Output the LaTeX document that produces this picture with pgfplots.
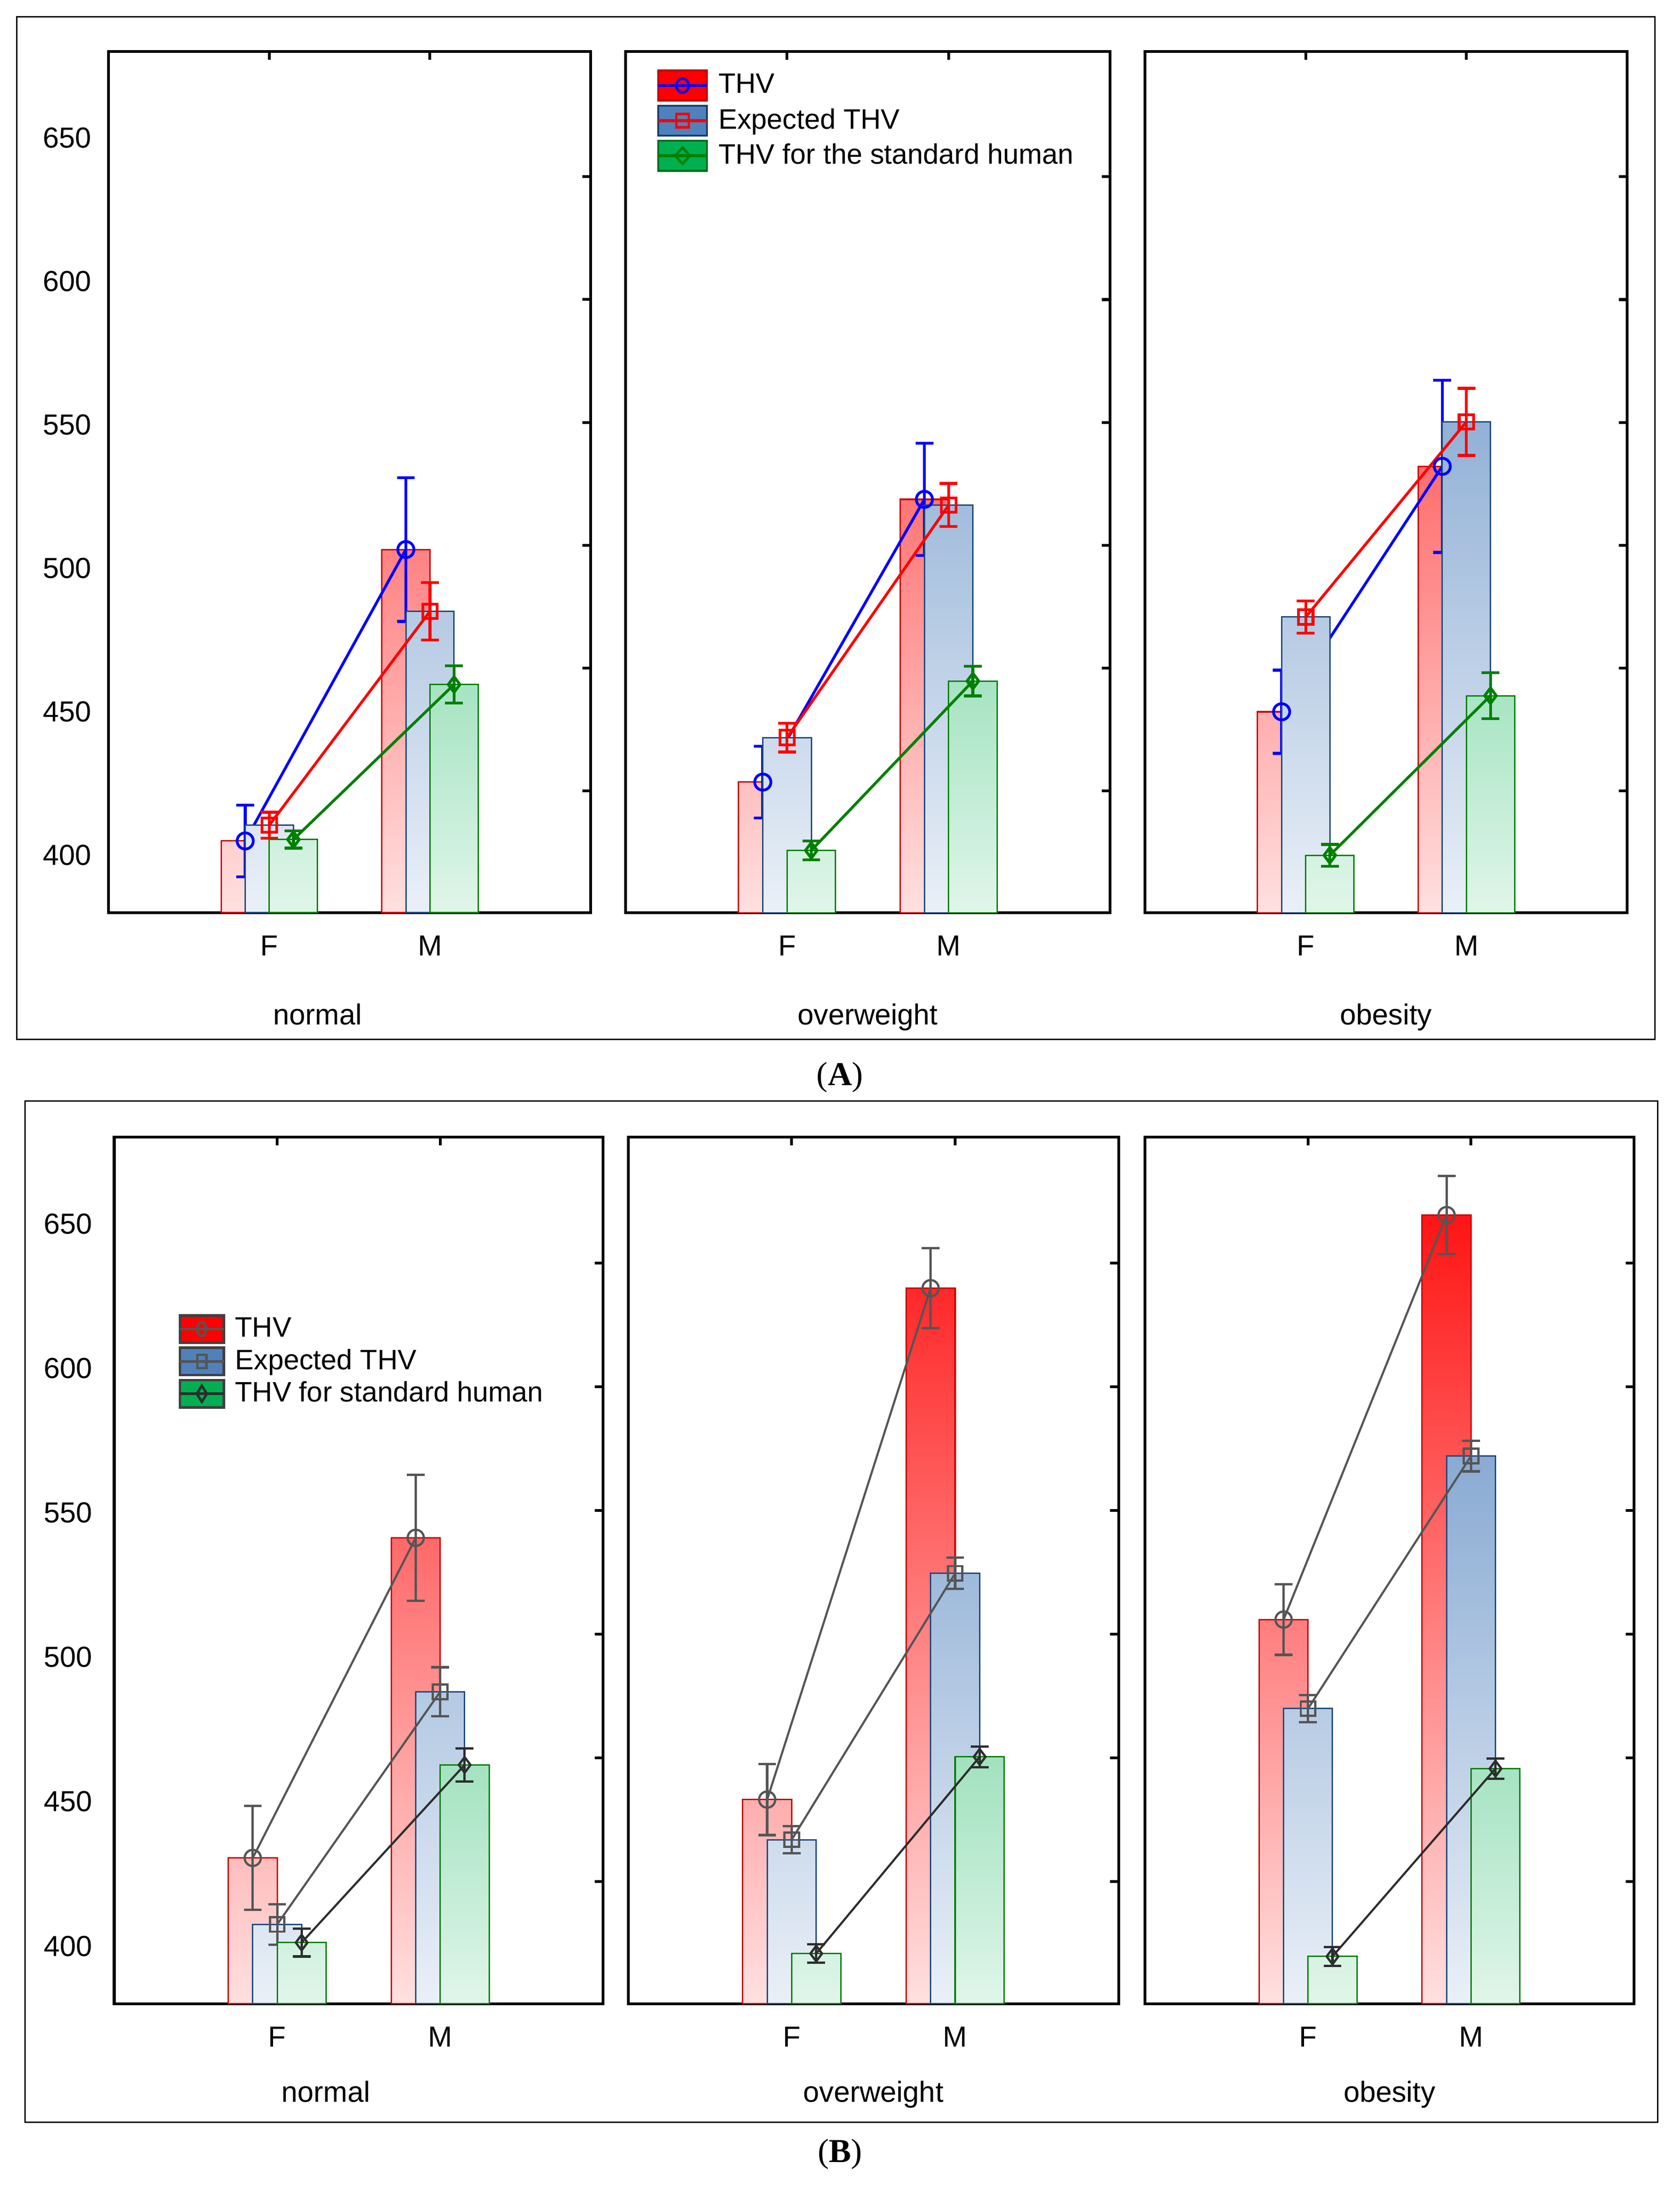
\documentclass[border=0pt]{standalone}
\usepackage{pgfplots}
\pgfplotsset{compat=1.18}
\usepackage{fontspec}
\setmainfont{Liberation Sans}
\newfontfamily\seriffont{Liberation Serif}
\newcommand\fs{\fontsize{10.4}{12.5}\selectfont}
\newcommand\lfs{\fontsize{10.1}{12}\selectfont}
\definecolor{barRed}{RGB}{255,0,0}
\definecolor{edgeRed}{RGB}{204,0,0}
\definecolor{barBlue}{RGB}{79,129,189}
\definecolor{edgeBlue}{RGB}{31,73,125}
\definecolor{barGreen}{RGB}{0,176,80}
\definecolor{edgeGreen}{RGB}{0,128,0}
\definecolor{lineGreen}{RGB}{0,128,0}
\definecolor{legRedE}{RGB}{190,0,0}
\definecolor{legBlueE}{RGB}{23,62,112}
\definecolor{legGreenE}{RGB}{0,110,30}
\definecolor{grayA}{RGB}{85,85,85}
\definecolor{grayB}{RGB}{45,45,45}
\definecolor{legGrayE}{RGB}{64,64,64}

% one shaded bar: colour, edge, x, value
\newcommand\shbar[4]{%
  \pgfmathtruncatemacro{\pct}{12+(#4-380)*0.29333}%
  \edef\doplot{\noexpand\addplot[ybar, bar width=0.3, bar shift=0pt, draw=#2, line width=0.5pt, top color=#1!\pct!white, bottom color=#1!12!white, forget plot] coordinates {(#3,#4)};}%
  \doplot}
\newcommand\sideticks{%
  \pgfplotsinvokeforeach{0.1413,0.2840,0.4267,0.5693,0.7120,0.8547}{\draw[line width=1pt] (rel axis cs:1,##1) -- ++(-3pt,0pt);}%
  \draw[line width=1pt] (rel axis cs:0.33333,1) -- ++(0pt,-3pt);
  \draw[line width=1pt] (rel axis cs:0.66667,1) -- ++(0pt,-3pt);
}

\pgfplotsset{
  sub/.style={scale only axis, anchor=south west,
    xmin=-1, xmax=2, ymin=380, ymax=680,
    y coord trafo/.code={\pgfmathparse{##1-380}},
    y coord inv trafo/.code={\pgfmathparse{##1+380}},
    xtick={0,1}, xticklabels={F,M},
    ytick={400,450,500,550,600,650}, yticklabels={},
    xtick style={draw=none}, ytick style={draw=none},
    axis line style={line width=1pt},
    tick label style={font=\fs},
    /pgf/number format/assume math mode=true,
    xticklabel style={anchor=base, yshift=-15.5pt},
    yticklabel style={xshift=-2.7pt},
    label style={font=\fs},
  },
  errs/.style={error bars/.cd, y dir=both, y explicit,
    error bar style={line width=#1},
    error mark options={rotate=90, mark size=3.2pt, line width=#1}},
  thvA/.style={blue, line width=1pt, mark=o, mark size=2.9pt, mark options={solid, line width=1pt}, forget plot, errs=1.05pt},
  expA/.style={red, line width=1pt, mark=square, mark size=2.6pt, mark options={solid, line width=1pt}, forget plot, errs=1.05pt},
  stdA/.style={lineGreen, line width=1pt, mark=diamond, mark size=2.8pt, mark options={solid, line width=1pt}, forget plot, errs=1.05pt},
  thvB/.style={grayA, line width=0.75pt, mark=o, mark size=2.9pt, mark options={solid, line width=0.8pt}, forget plot, errs=0.85pt},
  expB/.style={grayA, line width=0.75pt, mark=square, mark size=2.6pt, mark options={solid, line width=0.8pt}, forget plot, errs=0.85pt},
  stdB/.style={grayB, line width=0.75pt, mark=diamond, mark size=2.8pt, mark options={solid, line width=0.8pt}, forget plot, errs=0.85pt},
}

\begin{document}
\begin{tikzpicture}
% ---------------- panel A ----------------
\draw[line width=0.5pt] (6pt,411pt) rectangle (594pt,778pt);
\node[font=\seriffont\fontsize{12}{14}\selectfont] at (301.5pt,397.5pt) {(\textbf{A})};

\begin{axis}[sub, at={(39pt,456.5pt)}, width=173pt, height=309pt,
  yticklabels={400,450,500,550,600,650},
  xlabel={normal}, xlabel style={at={(axis description cs:0.4335,0)}, anchor=base, yshift=-40.25pt}]
\shbar{barRed}{edgeRed}{-0.15}{405}
\shbar{barRed}{edgeRed}{0.85}{506.5}
\addplot[thvA] coordinates {(-0.15,405) +- (0,12.5) (0.85,506.5) +- (0,25)};
\shbar{barBlue}{edgeBlue}{0}{410.5}
\shbar{barBlue}{edgeBlue}{1}{485}
\addplot[expA] coordinates {(0,410.5) +- (0,4.5) (1,485) +- (0,10)};
\shbar{barGreen}{edgeGreen}{0.15}{405.5}
\shbar{barGreen}{edgeGreen}{1.15}{459.5}
\addplot[stdA] coordinates {(0.15,405.5) +- (0,3) (1.15,459.5) +- (0,6.5)};
\sideticks
\end{axis}

\begin{axis}[sub, at={(224.5pt,456.5pt)}, width=174pt, height=309pt,
  xlabel={overweight}, xlabel style={at={(axis description cs:0.5,0)}, anchor=base, yshift=-40.25pt},
  legend style={at={(rel axis cs:0,1)}, anchor=north west, xshift=11pt, yshift=-6.25pt,
    draw=none, fill=none, inner sep=0pt, row sep=1.1pt, font=\lfs,
    nodes={inner xsep=3.6pt, inner ysep=0pt}},
  legend cell align=left]
\shbar{barRed}{edgeRed}{-0.15}{425.5}
\shbar{barRed}{edgeRed}{0.85}{524}
\addplot[thvA] coordinates {(-0.15,425.5) +- (0,12.5) (0.85,524) +- (0,19.5)};
\shbar{barBlue}{edgeBlue}{0}{441}
\shbar{barBlue}{edgeBlue}{1}{522}
\addplot[expA] coordinates {(0,441) +- (0,5) (1,522) +- (0,7.5)};
\shbar{barGreen}{edgeGreen}{0.15}{401.7}
\shbar{barGreen}{edgeGreen}{1.15}{460.7}
\addplot[stdA] coordinates {(0.15,401.7) +- (0,3.3) (1.15,460.7) +- (0,5.2)};
\sideticks
\addlegendimage{legend image code/.code={
  \draw[draw=legRedE, fill=barRed, line width=0.7pt] (0pt,-5.4pt) rectangle (17.5pt,5.4pt);
  \draw[blue, line width=1.1pt] (0pt,0pt) -- (17.5pt,0pt);
  \draw[blue, line width=0.9pt] (8.75pt,0pt) ellipse (2.2pt and 2.5pt);}}
\addlegendentry{THV}
\addlegendimage{legend image code/.code={
  \draw[draw=legBlueE, fill=barBlue, line width=0.7pt] (0pt,-5.4pt) rectangle (17.5pt,5.4pt);
  \draw[red, line width=1.1pt] (0pt,0pt) -- (17.5pt,0pt);
  \draw[red, line width=0.9pt] (6.5pt,-2.4pt) rectangle (11pt,2.4pt);}}
\addlegendentry{Expected THV}
\addlegendimage{legend image code/.code={
  \draw[draw=legGreenE, fill=barGreen, line width=0.7pt] (0pt,-5.4pt) rectangle (17.5pt,5.4pt);
  \draw[lineGreen, line width=1.1pt] (0pt,0pt) -- (17.5pt,0pt);
  \draw[lineGreen, line width=0.9pt] (8.75pt,-2.9pt) -- (11.4pt,0pt) -- (8.75pt,2.9pt) -- (6.1pt,0pt) -- cycle;}}
\addlegendentry{THV for the standard human}
\end{axis}

\begin{axis}[sub, at={(411pt,456.5pt)}, width=173pt, height=309pt,
  xlabel={obesity}, xlabel style={at={(axis description cs:0.5,0)}, anchor=base, yshift=-40.25pt}]
\shbar{barRed}{edgeRed}{-0.15}{450}
\shbar{barRed}{edgeRed}{0.85}{535.5}
\addplot[thvA] coordinates {(-0.15,450) +- (0,14.5) (0.85,535.5) +- (0,30)};
\shbar{barBlue}{edgeBlue}{0}{483}
\shbar{barBlue}{edgeBlue}{1}{551}
\addplot[expA] coordinates {(0,483) +- (0,5.6) (1,551) +- (0,11.7)};
\shbar{barGreen}{edgeGreen}{0.15}{400}
\shbar{barGreen}{edgeGreen}{1.15}{455.6}
\addplot[stdA] coordinates {(0.15,400) +- (0,3.8) (1.15,455.6) +- (0,8)};
\sideticks
\end{axis}

% ---------------- panel B ----------------
\draw[line width=0.5pt] (9pt,22.5pt) rectangle (595pt,389pt);
\node[font=\seriffont\fontsize{12}{14}\selectfont] at (301.5pt,11pt) {(\textbf{B})};

\begin{axis}[sub, at={(41pt,65pt)}, width=175.5pt, height=311pt,
  yticklabels={400,450,500,550,600,650}, yticklabel style={xshift=-1.7pt},
  xlabel={normal}, xlabel style={at={(axis description cs:0.433,0)}, anchor=base, yshift=-35.25pt},
  legend style={at={(rel axis cs:0,1)}, anchor=north west, xshift=22.9pt, yshift=-63.35pt,
    draw=none, fill=none, inner sep=0pt, row sep=0.9pt, font=\lfs,
    nodes={inner xsep=3.6pt, inner ysep=0pt}},
  legend cell align=left]
\shbar{barRed}{edgeRed}{-0.15}{430.5}
\shbar{barRed}{edgeRed}{0.85}{541.3}
\addplot[thvB] coordinates {(-0.15,430.5) +- (0,18) (0.85,541.3) +- (0,21.8)};
\shbar{barBlue}{edgeBlue}{0}{407.5}
\shbar{barBlue}{edgeBlue}{1}{488}
\addplot[expB] coordinates {(0,407.5) +- (0,7) (1,488) +- (0,8.5)};
\shbar{barGreen}{edgeGreen}{0.15}{401.2}
\shbar{barGreen}{edgeGreen}{1.15}{462.7}
\addplot[stdB] coordinates {(0.15,401.2) +- (0,4.8) (1.15,462.7) +- (0,5.7)};
\sideticks
\addlegendimage{legend image code/.code={
  \draw[draw=legGrayE, fill=barRed, line width=0.9pt] (0pt,-4.9pt) rectangle (15.8pt,4.9pt);
  \draw[grayA, line width=0.9pt] (0pt,0pt) -- (15.8pt,0pt);
  \draw[grayA, line width=0.9pt] (7.9pt,0pt) ellipse (1.6pt and 2.5pt);}}
\addlegendentry{THV}
\addlegendimage{legend image code/.code={
  \draw[draw=legGrayE, fill=barBlue, line width=0.9pt] (0pt,-4.9pt) rectangle (15.8pt,4.9pt);
  \draw[grayA, line width=0.9pt] (0pt,0pt) -- (15.8pt,0pt);
  \draw[grayA, line width=0.9pt] (6.3pt,-2.4pt) rectangle (9.5pt,2.4pt);}}
\addlegendentry{Expected THV}
\addlegendimage{legend image code/.code={
  \draw[draw=legGrayE, fill=barGreen, line width=0.9pt] (0pt,-4.9pt) rectangle (15.8pt,4.9pt);
  \draw[grayB, line width=0.9pt] (0pt,0pt) -- (15.8pt,0pt);
  \draw[grayB, line width=0.9pt] (7.9pt,-2.9pt) -- (9.7pt,0pt) -- (7.9pt,2.9pt) -- (6.1pt,0pt) -- cycle;}}
\addlegendentry{THV for standard human}
\end{axis}

\begin{axis}[sub, at={(225.5pt,65pt)}, width=176pt, height=311pt,
  xlabel={overweight}, xlabel style={at={(axis description cs:0.5,0)}, anchor=base, yshift=-35.25pt}]
\shbar{barRed}{edgeRed}{-0.15}{450.7}
\shbar{barRed}{edgeRed}{0.85}{627.7}
\addplot[thvB] coordinates {(-0.15,450.7) +- (0,12.3) (0.85,627.7) +- (0,13.8)};
\shbar{barBlue}{edgeBlue}{0}{436.8}
\shbar{barBlue}{edgeBlue}{1}{529}
\addplot[expB] coordinates {(0,436.8) +- (0,4.7) (1,529) +- (0,5.4)};
\shbar{barGreen}{edgeGreen}{0.15}{397.4}
\shbar{barGreen}{edgeGreen}{1.15}{465.5}
\addplot[stdB] coordinates {(0.15,397.4) +- (0,3.2) (1.15,465.5) +- (0,3.6)};
\sideticks
\end{axis}

\begin{axis}[sub, at={(411pt,65pt)}, width=175.5pt, height=311pt,
  xlabel={obesity}, xlabel style={at={(axis description cs:0.5,0)}, anchor=base, yshift=-35.25pt}]
\shbar{barRed}{edgeRed}{-0.15}{513}
\shbar{barRed}{edgeRed}{0.85}{653}
\addplot[thvB] coordinates {(-0.15,513) +- (0,12.2) (0.85,653) +- (0,13.5)};
\shbar{barBlue}{edgeBlue}{0}{482.2}
\shbar{barBlue}{edgeBlue}{1}{569.6}
\addplot[expB] coordinates {(0,482.2) +- (0,4.7) (1,569.6) +- (0,5.3)};
\shbar{barGreen}{edgeGreen}{0.15}{396.4}
\shbar{barGreen}{edgeGreen}{1.15}{461.4}
\addplot[stdB] coordinates {(0.15,396.4) +- (0,3.3) (1.15,461.4) +- (0,3.5)};
\sideticks
\end{axis}

\pgfresetboundingbox
\path[use as bounding box] (0pt,0pt) rectangle (603pt,784pt);
\end{tikzpicture}
\end{document}
